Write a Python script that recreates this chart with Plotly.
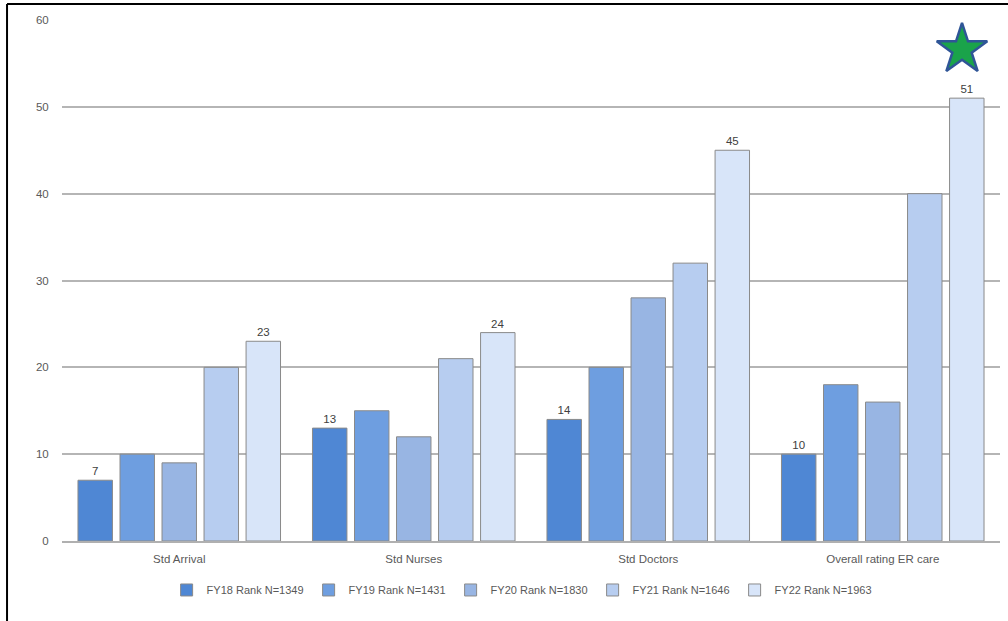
import plotly.graph_objects as go

categories = ["Std Arrival", "Std Nurses", "Std Doctors", "Overall rating ER care"]
series_names = ["FY18 Rank N=1349", "FY19 Rank N=1431", "FY20 Rank N=1830",
                "FY21 Rank N=1646", "FY22 Rank N=1963"]
fy18 = [7, 13, 14, 10]
fy19 = [10, 15, 20, 18]
fy20 = [9, 12, 28, 16]
fy21 = [20, 21, 32, 40]
fy22 = [23, 24, 45, 51]
series_values = [fy18, fy19, fy20, fy21, fy22]
show_labels = [True, False, False, False, True]
colors = ["#4f87d4", "#6e9ee0", "#98b5e3", "#b7cdf0", "#d8e5f9"]

# star marker (decoration above the best score)
star_x = [3.338]
star_y = [56.6]

FONT = "Liberation Sans"
GREY = "#595959"

fig = go.Figure()
for name, vals, col, lab in zip(series_names, series_values, colors, show_labels):
    fig.add_trace(go.Bar(
        name=name, x=categories, y=vals,
        marker=dict(color=col, line=dict(color="#8a8a8a", width=1)),
        text=[str(v) for v in vals] if lab else None,
        textposition="outside",
        textfont=dict(family=FONT, size=11.5, color="#404040"),
        cliponaxis=False,
    ))

fig.add_trace(go.Scatter(
    x=star_x, y=star_y, xaxis="x2", mode="markers", showlegend=False,
    hoverinfo="skip",
    marker=dict(symbol="star", size=38, color="#1aa34a",
                line=dict(color="#2f5597", width=2.5)),
))

fig.update_layout(
    width=1008, height=621,
    margin=dict(l=62, r=8, t=20, b=80),
    paper_bgcolor="white", plot_bgcolor="white",
    barmode="group", bargap=0.104, bargroupgap=0.18,
    font=dict(family=FONT, size=11.5, color=GREY),
    showlegend=True,
    legend=dict(orientation="h", x=0.49, xanchor="center", y=-0.094, yanchor="middle",
                font=dict(family=FONT, size=11, color=GREY),
                entrywidth=97, entrywidthmode="pixels",
                itemwidth=30, traceorder="normal"),
    xaxis=dict(showgrid=False, showline=True, linecolor="#b0b0b0", linewidth=2,
               ticks="outside", ticklen=6, tickcolor="rgba(0,0,0,0)",
               tickfont=dict(family=FONT, size=11.5, color=GREY), fixedrange=True),
    xaxis2=dict(overlaying="x", range=[-0.5, 3.5], visible=False, fixedrange=True),
    yaxis=dict(range=[0, 60], dtick=10, showgrid=True, gridcolor="#b5b5b5", gridwidth=2,
               zeroline=False, showline=False,
               ticks="outside", ticklen=10, tickcolor="rgba(0,0,0,0)",
               tickfont=dict(family=FONT, size=11.5, color=GREY), fixedrange=True),
    shapes=[
        dict(type="line", xref="paper", yref="paper", x0=-0.0586, x1=1.02,
             y0=1.0307, y1=1.0307, line=dict(color="black", width=2)),
        dict(type="line", xref="paper", yref="paper", x0=-0.0586, x1=-0.0586,
             y0=1.0307, y1=-0.17, line=dict(color="black", width=2)),
    ],
)

fig.write_html("out.html")
